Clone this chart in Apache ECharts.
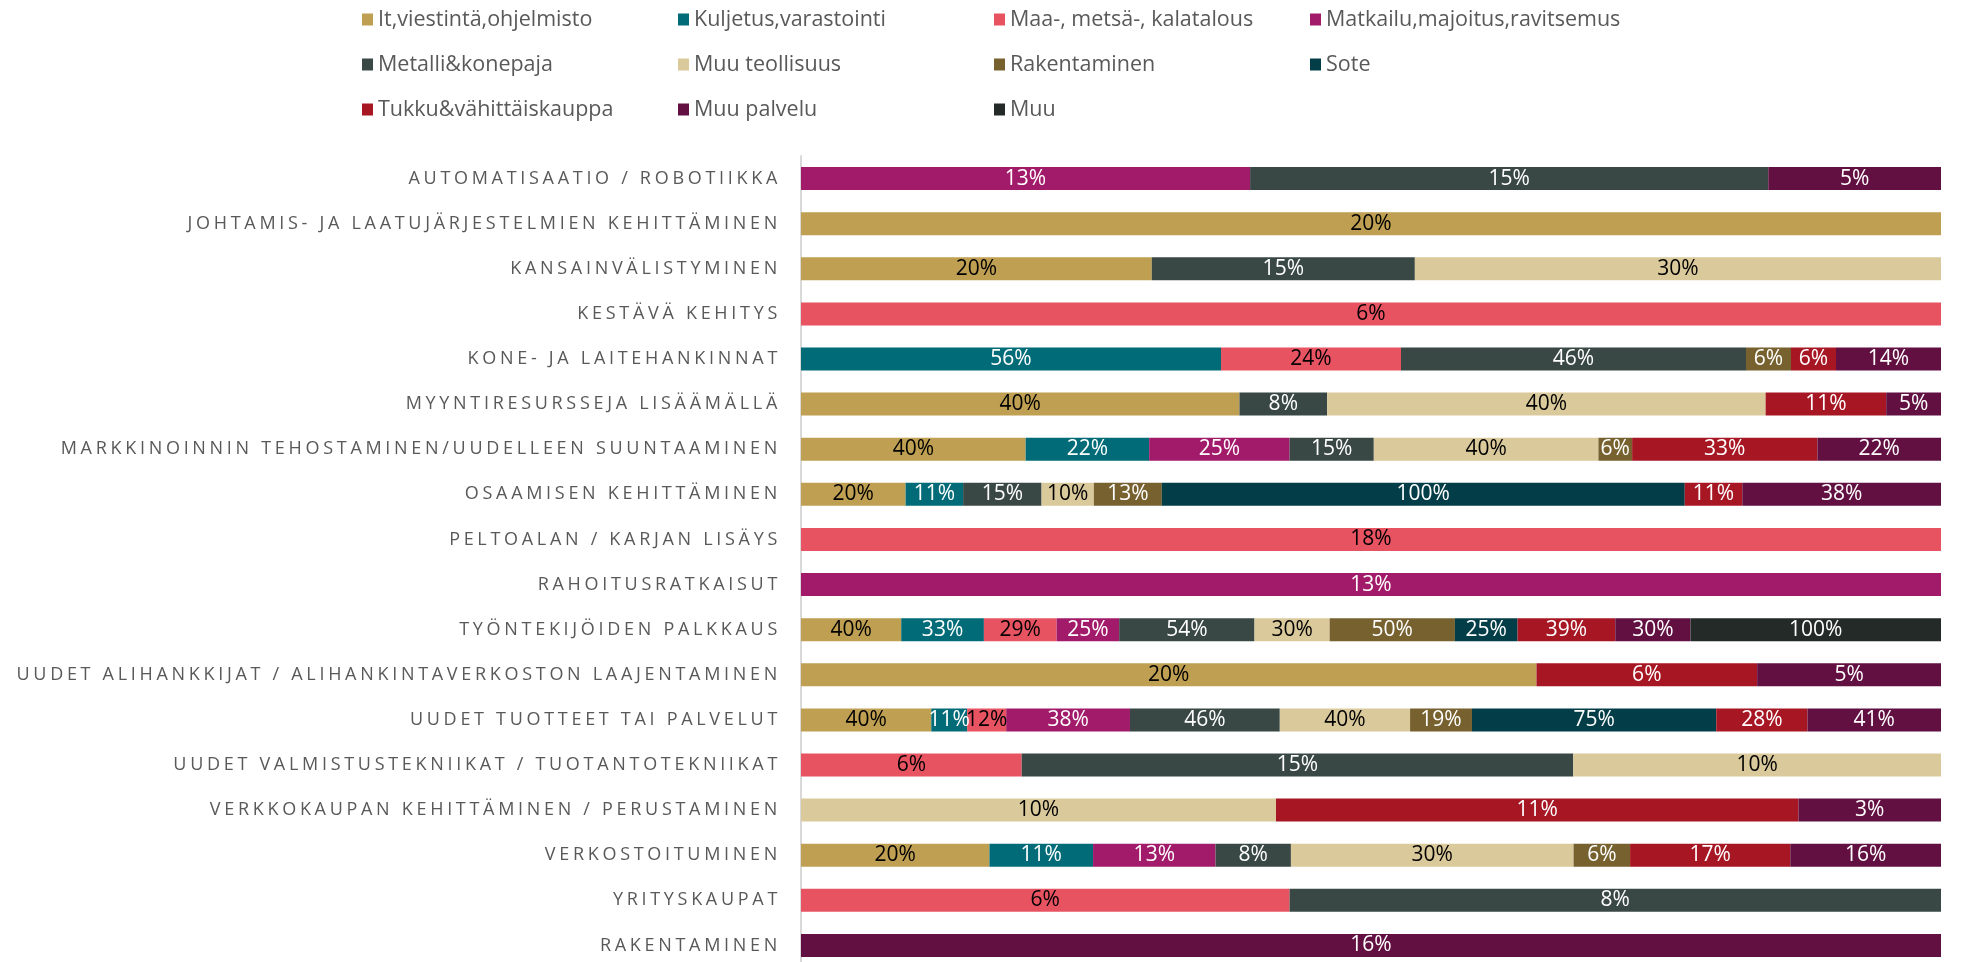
<!DOCTYPE html>
<html>
<head>
<meta charset="utf-8">
<script src="https://cdn.jsdelivr.net/npm/echarts@6/dist/echarts.min.js"></script>
<style>
html,body{margin:0;padding:0;background:#fff;overflow:hidden;}
#chart{width:1964px;height:980px;}
</style>
</head>
<body>
<div id="chart"></div>
<script>
// Letter-spaced category labels (marker font family "Lato" fallback identifies them)
(function(){
  var P = CanvasRenderingContext2D.prototype;
  var orig = P.fillText;
  P.fillText = function(t, x, y, m){
    if ('letterSpacing' in this) {
      var f = this.font;
      var want = (f && f.indexOf('Lato') >= 0) ? '3.7px' : '0px';
      if (this.letterSpacing !== want) {
        this.letterSpacing = want;
        this.font = f;
      }
    }
    return orig.apply(this, arguments);
  };
})();

var categories = [
  'AUTOMATISAATIO / ROBOTIIKKA',
  'JOHTAMIS- JA LAATUJÄRJESTELMIEN KEHITTÄMINEN',
  'KANSAINVÄLISTYMINEN',
  'KESTÄVÄ KEHITYS',
  'KONE- JA LAITEHANKINNAT',
  'MYYNTIRESURSSEJA LISÄÄMÄLLÄ',
  'MARKKINOINNIN TEHOSTAMINEN/UUDELLEEN SUUNTAAMINEN',
  'OSAAMISEN KEHITTÄMINEN',
  'PELTOALAN / KARJAN LISÄYS',
  'RAHOITUSRATKAISUT',
  'TYÖNTEKIJÖIDEN PALKKAUS',
  'UUDET ALIHANKKIJAT / ALIHANKINTAVERKOSTON LAAJENTAMINEN',
  'UUDET TUOTTEET TAI PALVELUT',
  'UUDET VALMISTUSTEKNIIKAT / TUOTANTOTEKNIIKAT',
  'VERKKOKAUPAN KEHITTÄMINEN / PERUSTAMINEN',
  'VERKOSTOITUMINEN',
  'YRITYSKAUPAT',
  'RAKENTAMINEN'
];

var seriesNames = ['It,viestintä,ohjelmisto','Kuljetus,varastointi','Maa-, metsä-, kalatalous','Matkailu,majoitus,ravitsemus','Metalli&konepaja','Muu teollisuus','Rakentaminen','Sote','Tukku&vähittäiskauppa','Muu palvelu','Muu'];

var itViestinta   = [null,20,20,null,null,40,40,20,null,null,40,20,40,null,null,20,null,null];
var kuljetus      = [null,null,null,null,56,null,22,11,null,null,33,null,11,null,null,11,null,null];
var maaMetsa      = [null,null,null,6,24,null,null,null,18,null,29,null,12,6,null,null,6,null];
var matkailu      = [13,null,null,null,null,null,25,null,null,13,25,null,38,null,null,13,null,null];
var metalli       = [15,null,15,null,46,8,15,15,null,null,54,null,46,15,null,8,8,null];
var muuTeollisuus = [null,null,30,null,null,40,40,10,null,null,30,null,40,10,10,30,null,null];
var rakentaminen  = [null,null,null,null,6,null,6,13,null,null,50,null,19,null,null,6,null,null];
var sote          = [null,null,null,null,null,null,null,100,null,null,25,null,75,null,null,null,null,null];
var tukku         = [null,null,null,null,6,11,33,11,null,null,39,6,28,null,11,17,null,null];
var muuPalvelu    = [5,null,null,null,14,5,22,38,null,null,30,5,41,null,3,16,null,16];
var muu           = [null,null,null,null,null,null,null,null,null,null,100,null,null,null,null,null,null,null];

var seriesValues = [itViestinta,kuljetus,maaMetsa,matkailu,metalli,muuTeollisuus,rakentaminen,sote,tukku,muuPalvelu,muu];
var colors = ['#BF9F51','#016B78','#E85362','#A21A6A','#394845','#DAC99B','#76612F','#033E48','#A71623','#621042','#232A28'];
var labelColors = ['#000','#fff','#000','#fff','#fff','#000','#fff','#fff','#fff','#fff','#fff'];

var rowSums = categories.map(function(c, i){
  var s = 0;
  seriesValues.forEach(function(arr){ if (arr[i] != null) s += arr[i]; });
  return s;
});

var series = seriesNames.map(function(name, si){
  return {
    name: name,
    type: 'bar',
    stack: 'total',
    barWidth: 23,
    itemStyle: { color: colors[si] },
    label: {
      show: true,
      position: 'inside',
      color: labelColors[si],
      fontFamily: "'Open Sans', sans-serif",
      fontSize: 21,
      formatter: function(p){ return seriesValues[si][p.dataIndex] + '%'; }
    },
    emphasis: { disabled: true },
    data: seriesValues[si].map(function(v, i){ return v == null ? '-' : v / rowSums[i]; })
  };
});

var chart = echarts.init(document.getElementById('chart'), null, { renderer: 'canvas' });
chart.setOption({
  animation: false,
  color: colors,
  legend: {
    left: 362,
    top: -3,
    width: 1300,
    padding: 0,
    itemGap: 0,
    itemWidth: 11,
    itemHeight: 12,
    icon: 'rect',
    selectedMode: false,
    textStyle: {
      color: '#595959',
      fontFamily: "'Open Sans', sans-serif",
      fontSize: 21.5,
      width: 300,
      height: 45,
      lineHeight: 45,
      overflow: 'none'
    },
    data: seriesNames
  },
  grid: { left: 801, right: 23, top: 156, height: 812 },
  xAxis: { type: 'value', min: 0, max: 1, show: false },
  yAxis: {
    type: 'category',
    inverse: true,
    data: categories,
    axisLine: { show: true, lineStyle: { color: '#D9D9D9', width: 2 } },
    axisTick: { show: false },
    axisLabel: {
      color: '#595959',
      fontSize: 18,
      fontFamily: "'Open Sans', Lato",
      margin: 20
    }
  },
  series: series
});
</script>
</body>
</html>
